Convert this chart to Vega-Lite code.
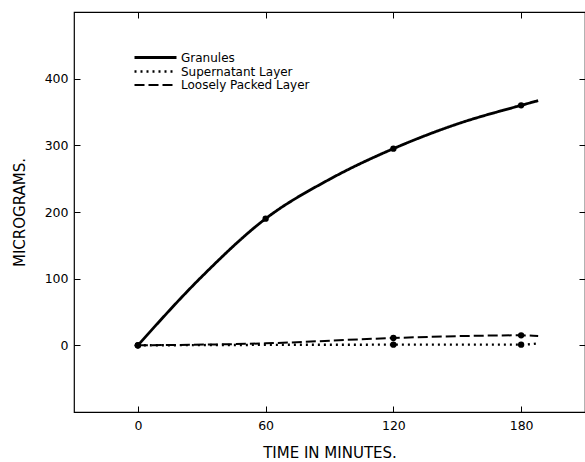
{
  "$schema": "https://vega.github.io/schema/vega-lite/v6.json",
  "width": 511,
  "height": 400,
  "autosize": {"type": "none"},
  "padding": {"left": 74, "top": 12, "right": 0, "bottom": 50},
  "background": "white",
  "config": {
    "view": {"stroke": "black", "strokeWidth": 1.2},
    "font": "DejaVu Sans",
    "axis": {"grid": false, "domain": false, "tickColor": "black", "labelColor": "black", "titleColor": "black", "labelFont": "DejaVu Sans", "titleFont": "DejaVu Sans", "labelFontSize": 12.5, "titleFontWeight": "normal", "titleFontSize": 15, "tickWidth": 1}
  },
  "data": {
    "values": [
      {"series": "Granules", "t": 0, "v": 0, "marker": true},
      {"series": "Granules", "t": 30, "v": 103, "marker": false},
      {"series": "Granules", "t": 60, "v": 190, "marker": true},
      {"series": "Granules", "t": 90, "v": 249, "marker": false},
      {"series": "Granules", "t": 120, "v": 295, "marker": true},
      {"series": "Granules", "t": 150, "v": 332, "marker": false},
      {"series": "Granules", "t": 180, "v": 360, "marker": true},
      {"series": "Granules", "t": 188, "v": 367, "marker": false},
      {"series": "Supernatant Layer", "t": 0, "v": 0, "marker": true},
      {"series": "Supernatant Layer", "t": 120, "v": 1, "marker": true},
      {"series": "Supernatant Layer", "t": 180, "v": 1, "marker": true},
      {"series": "Supernatant Layer", "t": 188, "v": 3, "marker": false},
      {"series": "Loosely Packed Layer", "t": 0, "v": 0, "marker": true},
      {"series": "Loosely Packed Layer", "t": 60, "v": 3, "marker": false},
      {"series": "Loosely Packed Layer", "t": 120, "v": 11, "marker": true},
      {"series": "Loosely Packed Layer", "t": 180, "v": 15, "marker": true},
      {"series": "Loosely Packed Layer", "t": 188, "v": 14, "marker": false}
    ]
  },
  "resolve": {"axis": {"x": "independent", "y": "independent"}},
  "layer": [
    {
      "mark": {"type": "line", "interpolate": "monotone", "color": "black", "strokeCap": "butt"},
      "encoding": {
        "x": {"field": "t", "type": "quantitative", "scale": {"domain": [-30, 210], "nice": false, "zero": false},
          "axis": {"orient": "bottom", "values": [0, 60, 120, 180], "tickSize": -6, "labelPadding": 13, "title": "TIME IN MINUTES.", "titlePadding": 14}},
        "y": {"field": "v", "type": "quantitative", "scale": {"domain": [-100, 500], "nice": false, "zero": false},
          "axis": {"orient": "left", "values": [0, 100, 200, 300, 400], "tickSize": -6, "labelPadding": 12, "title": "MICROGRAMS.", "titlePadding": 17}},
        "strokeDash": {"field": "series", "type": "nominal",
          "scale": {"domain": ["Granules", "Supernatant Layer", "Loosely Packed Layer"], "range": [[1, 0], [2, 4], [10, 4]]},
          "legend": {"title": null, "orient": "none", "legendX": 74, "legendY": 38, "symbolType": "M-3.5,0H3.5", "symbolSize": 144, "symbolStrokeColor": "black", "symbolStrokeWidth": 2.5, "symbolFillColor": "transparent", "labelFontSize": 12, "labelColor": "black", "rowPadding": 0, "labelOffset": 18}},
        "strokeWidth": {"field": "series", "type": "nominal",
          "scale": {"domain": ["Granules", "Supernatant Layer", "Loosely Packed Layer"], "range": [2.8, 2, 2.4]}, "legend": null}
      }
    },
    {
      "transform": [{"filter": "datum.marker"}],
      "mark": {"type": "point", "filled": true, "color": "black", "size": 40, "opacity": 1},
      "encoding": {
        "x": {"field": "t", "type": "quantitative", "axis": {"orient": "top", "values": [0, 60, 120, 180], "tickSize": -6, "labels": false, "title": null}},
        "y": {"field": "v", "type": "quantitative", "axis": {"orient": "right", "values": [0, 100, 200, 300, 400], "tickSize": -6, "labels": false, "title": null}},
        "detail": {"field": "series"}
      }
    }
  ]
}
